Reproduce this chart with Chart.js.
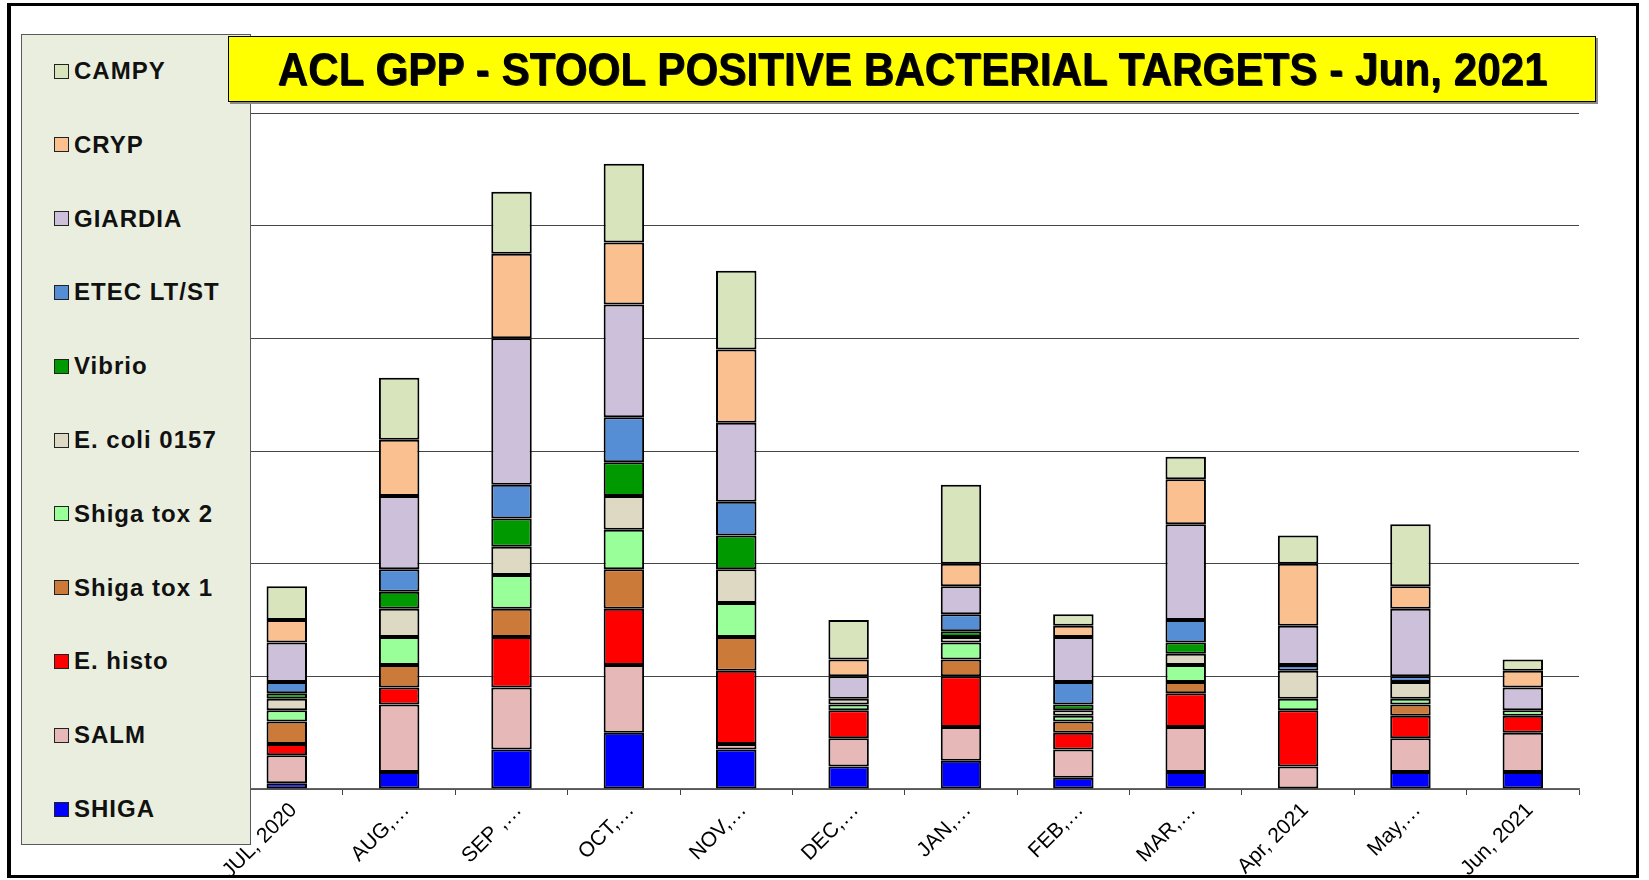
<!DOCTYPE html>
<html>
<head>
<meta charset="utf-8">
<title>ACL GPP - Stool Positive Bacterial Targets</title>
<script src="https://cdn.jsdelivr.net/npm/chart.js@4.4.1/dist/chart.umd.min.js"></script>
<style>
  html, body { margin: 0; padding: 0; background: #fff; }
  body { width: 1649px; height: 880px; overflow: hidden; position: relative; font-family: "Liberation Sans", Arial, sans-serif; }
  #frame { position: absolute; left: 7px; top: 3px; width: 1632px; height: 875px; box-sizing: border-box;
           border: 3px solid #000; border-left-width: 4px; }
  #chartWrap { position: absolute; left: 0; top: 0; width: 1649px; height: 880px; }
  #legendBox { position: absolute; left: 21px; top: 34px; width: 230px; height: 811px; box-sizing: border-box;
               background: #eaeede; border: 1px solid #5a5a5a; z-index: 2; }
  .legend-item { position: absolute; left: 0; height: 30px; display: flex; align-items: center; }
  .legend-swatch { position: absolute; left: 32px; width: 15px; height: 15px; box-sizing: border-box; border: 1.5px solid #222; }
  .legend-label { position: absolute; left: 52px; white-space: nowrap; font-weight: bold; font-size: 24px;
                  letter-spacing: 1px; color: #111; line-height: 30px; }
  #titleBox { position: absolute; left: 228px; top: 36px; width: 1368px; height: 66px; box-sizing: border-box;
              background: #ffff00; border: 1px solid #000; box-shadow: 2px 2px 0 #8a8a8a; z-index: 3;
              display: flex; align-items: center; justify-content: center; overflow: hidden; }
  #titleText { display: inline-block; white-space: nowrap; font-family: "Liberation Sans Narrow", "Arial Narrow", "Liberation Sans", Arial, sans-serif;
               font-weight: bold; font-size: 47px; line-height: 50px; color: #000; transform-origin: center center; text-shadow: 1px 1px 0 #222; }
</style>
</head>
<body>
<div id="chartWrap"><canvas id="gppChart" width="1649" height="880"></canvas></div>
<div id="legendBox"></div>
<div id="titleBox"><span id="titleText">ACL GPP - STOOL POSITIVE BACTERIAL TARGETS - Jun, 2021</span></div>
<div id="frame"></div>

<script>
// month labels as shown on the axis (Excel truncated some of them)
const months = ["JUL, 2020", "AUG,…", "SEP ,…", "OCT,…", "NOV,…", "DEC,…",
                "JAN,…", "FEB,…", "MAR,…", "Apr, 2021", "May,…", "Jun, 2021"];

// positive counts per target, stacked bottom (SHIGA) to top (CAMPY)
const shiga     = [1, 3, 7, 10, 7, 4, 5, 2, 3, 0, 3, 3];
const salm      = [5, 12, 11, 12, 1, 5, 6, 5, 8, 4, 6, 7];
const eHisto    = [2, 3, 9, 10, 13, 5, 9, 3, 6, 10, 4, 3];
const shigaTox1 = [4, 4, 5, 7, 6, 0, 3, 2, 2, 0, 2, 0];
const shigaTox2 = [2, 5, 6, 7, 6, 1, 3, 1, 3, 2, 1, 1];
const ecoli0157 = [2, 5, 5, 6, 6, 1, 1, 1, 2, 5, 3, 0];
const vibrio    = [1, 3, 5, 6, 6, 0, 1, 1, 2, 0, 0, 0];
const etec      = [2, 4, 6, 8, 6, 0, 3, 4, 4, 1, 1, 0];
const giardia   = [7, 13, 26, 20, 14, 4, 5, 8, 17, 7, 12, 4];
const cryp      = [4, 10, 15, 11, 13, 3, 4, 2, 8, 11, 4, 3];
const campy     = [6, 11, 11, 14, 14, 7, 14, 2, 4, 5, 11, 2];

const yMax = 120;
const yStep = 20;

const series = [
  { label: "SHIGA",        data: shiga,     color: "#0000ff" },
  { label: "SALM",         data: salm,      color: "#e6b8b7" },
  { label: "E. histo",     data: eHisto,    color: "#ff0000" },
  { label: "Shiga tox 1",  data: shigaTox1, color: "#cc7a3a" },
  { label: "Shiga tox 2",  data: shigaTox2, color: "#99ff99" },
  { label: "E. coli 0157", data: ecoli0157, color: "#ddd9c3" },
  { label: "Vibrio",       data: vibrio,    color: "#009900" },
  { label: "ETEC LT/ST",   data: etec,      color: "#558ed5" },
  { label: "GIARDIA",      data: giardia,   color: "#ccc0da" },
  { label: "CRYP",         data: cryp,      color: "#fac090" },
  { label: "CAMPY",        data: campy,     color: "#d8e4bc" },
];

function buildLegend() {
  const box = document.getElementById("legendBox");
  const items = series.slice().reverse();
  box.innerHTML = items.map((s, i) => {
    const cy = 36 + i * 73.8;
    return `<div class="legend-item" style="top:${cy - 15}px">
      <span class="legend-swatch" style="background:${s.color}"></span>
      <span class="legend-label">${s.label}</span></div>`;
  }).join("");
}

function fitTitle() {
  const el = document.getElementById("titleText");
  el.style.transform = "none";
  const w = el.getBoundingClientRect().width;
  if (w > 0) el.style.transform = `scaleX(${1270 / w})`;
}

const ctx = document.getElementById("gppChart").getContext("2d");
const chart = new Chart(ctx, {
  type: "bar",
  data: {
    labels: months,
    datasets: series.map((s) => ({
      label: s.label,
      data: s.data,
      backgroundColor: s.color,
      borderColor: "#000",
      borderWidth: 2,
      borderSkipped: false,
      barPercentage: 0.36,
      categoryPercentage: 1,
    })),
  },
  options: {
    responsive: false,
    animation: false,
    layout: { padding: { left: 230.6, right: 70, top: 113, bottom: 0 } },
    plugins: { legend: { display: false }, tooltip: { enabled: false }, title: { display: false } },
    scales: {
      x: {
        stacked: true,
        grid: { offset: true, drawOnChartArea: false, drawTicks: true, tickLength: 6, color: "#444" },
        border: { display: true, color: "#666", width: 1.5 },
        ticks: {
          autoSkip: false,
          minRotation: 45,
          maxRotation: 45,
          padding: 3,
          labelOffset: 7,
          color: "#000",
          font: { family: "'Liberation Sans', Arial, sans-serif", size: 21 },
        },
        afterFit: (scale) => { scale.height = 91; },
      },
      y: {
        stacked: true,
        min: 0,
        max: yMax,
        ticks: { display: false, stepSize: yStep },
        grid: { color: "#444", lineWidth: 1, drawTicks: false },
        border: { display: false },
        afterFit: (scale) => { scale.width = 0; },
      },
    },
  },
});

buildLegend();
fitTitle();
if (document.fonts && document.fonts.ready) document.fonts.ready.then(fitTitle);
</script>
</body>
</html>
